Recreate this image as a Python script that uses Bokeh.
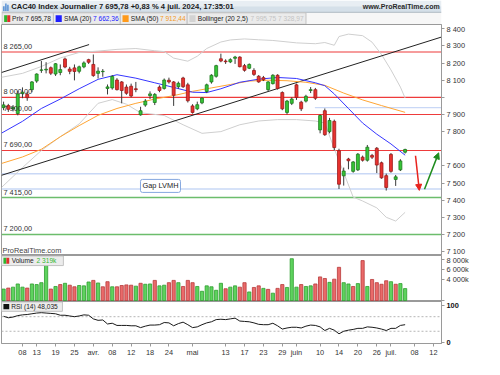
from bokeh.plotting import figure
from bokeh.models import Range1d, FixedTicker, Span, Label, Arrow, NormalHead, ColumnDataSource
from bokeh.layouts import column
from bokeh.embed import file_html
from bokeh.resources import INLINE
from bokeh.core.properties import value

FONT = "Liberation Sans"
FS = "7.4px"
FS_HEAD = "6.6px"

# ---------------- calendar (trading days) ----------------
mar = [4, 5, 6, 7, 8, 11, 12, 13, 14, 15, 18, 19, 20, 21, 22, 25, 26, 27, 28]
apr = [2, 3, 4, 5, 8, 9, 10, 11, 12, 15, 16, 17, 18, 19, 22, 23, 24, 25, 26, 29, 30]
may = [2, 3, 6, 7, 8, 9, 10, 13, 14, 15, 16, 17, 20, 21, 22, 23, 24, 27, 28, 29, 30, 31]
jun = [3, 4, 5, 6, 7, 10, 11, 12, 13, 14, 17, 18, 19, 20, 21, 24, 25, 26, 27, 28]
jul = [1, 2, 3, 4, 5, 8, 9, 10, 11, 12]
days = ([f"2024-03-{d:02d}" for d in mar] + [f"2024-04-{d:02d}" for d in apr] +
        [f"2024-05-{d:02d}" for d in may] + [f"2024-06-{d:02d}" for d in jun] +
        [f"2024-07-{d:02d}" for d in jul])

# ---------------- price data (CAC40 daily) ----------------
opens = [7940, 7952, 7932, 7905, 8022, 8018, 8045, 8095, 8158, 8160, 8173, 8136, 8145, 8224, 8165, 8172, 8152, 8178, 8220,
         8192, 8140, 8150, 8052, 8055, 8101, 8090, 8060, 8065, 8050, 7898, 7955, 8010, 7970, 8060, 8052, 8100, 8090, 8062, 8113, 8073,
         7950, 7933, 7968, 8034, 8090, 8123, 8225, 8212, 8207, 8228, 8235, 8185, 8170, 8157, 8123, 8115, 8045, 8080, 8129, 8028, 7912, 7965,
         8073, 7972, 7978, 8040, 8045, 7810, 7922, 7800, 7860, 7689, 7542, 7640, 7568, 7577, 7651, 7633, 7661, 7703, 7618, 7543,
         7667, 7521, 7577, 7680]
highs = [7975, 7962, 7955, 8038, 8058, 8032, 8095, 8140, 8212, 8205, 8180, 8200, 8192, 8232, 8178, 8192, 8185, 8210, 8225,
         8250, 8175, 8165, 8075, 8130, 8112, 8095, 8075, 8080, 8090, 7945, 7990, 8035, 8025, 8070, 8110, 8115, 8095, 8092, 8120, 8085,
         7960, 7975, 8000, 8080, 8135, 8190, 8255, 8222, 8228, 8242, 8240, 8195, 8198, 8170, 8130, 8125, 8095, 8135, 8135, 8035, 7985, 8000,
         8080, 7980, 8015, 8060, 8055, 7900, 7935, 7880, 7870, 7700, 7590, 7647, 7628, 7675, 7660, 7722, 7670, 7710, 7625, 7555,
         7675, 7547, 7639, 7700]
lows = [7925, 7915, 7918, 7895, 7995, 7980, 8030, 8085, 8143, 8140, 8130, 8125, 8129, 8170, 8135, 8099, 8140, 8170, 8195,
        8120, 8110, 8120, 8017, 8045, 8040, 7965, 8015, 8000, 8030, 7893, 7945, 7990, 7955, 8030, 8045, 8080, 7950, 8050, 8055, 7970,
        7905, 7925, 7960, 8025, 8080, 8115, 8205, 8195, 8200, 8195, 8175, 8150, 8165, 8125, 8085, 8095, 8035, 8075, 8045, 7925, 7900, 7955,
        7985, 7920, 7970, 8025, 7985, 7790, 7775, 7790, 7690, 7465, 7485, 7580, 7560, 7570, 7625, 7625, 7640, 7558, 7525, 7456,
        7560, 7483, 7570, 7672]
closes = [7956, 7930, 7942, 8020, 8030, 7998, 8090, 8136, 8160, 8164, 8141, 8196, 8162, 8177, 8152, 8151, 8178, 8201, 8205,
          8127, 8153, 8152, 8061, 8122, 8045, 8040, 8024, 8008, 8045, 7922, 7978, 8020, 8017, 8040, 8101, 8090, 8012, 8082, 8062, 7980,
          7912, 7957, 7996, 8073, 8129, 8185, 8212, 8208, 8220, 8235, 8179, 8158, 8192, 8134, 8090, 8102, 8090, 8129, 8052, 7933, 7978, 7990,
          7999, 7933, 8006, 8045, 7995, 7894, 7782, 7865, 7707, 7493, 7570, 7630, 7623, 7668, 7633, 7709, 7651, 7605, 7530, 7474,
          7568, 7536, 7629, 7695.78]
prev_close = 7934.17

# volume in thousands
volumes_k = [2230, 2420, 2600, 3220, 2600, 2420, 3220, 3100, 3470, 6880, 2230, 2730, 3100, 3350, 2980, 2670, 2920, 2850, 3600,
             3910, 3410, 2670, 3660, 2670, 2670, 2920, 3040, 2980, 2790, 3350, 3160, 3220, 3910, 2850, 2980, 3470, 3910, 3470, 2730, 3910,
             3470, 2730, 1800, 2850, 2670, 1990, 3350, 2290, 2600, 2850, 2600, 3470, 1670, 2540, 2850, 2360, 2170, 1430, 2360, 3100, 2540, 8120,
             2600, 3100, 2730, 2850, 3220, 4590, 4280, 3530, 4150, 6450, 3470, 3220, 2730, 3290, 7750, 2730, 4090, 3470, 3160, 3840,
             3660, 3160, 3290, 2319]

rsi14 = [71, 67, 69, 73, 75, 76, 78, 80, 81, 80, 79, 78, 74, 74, 72, 70, 72, 75, 74,
         64, 60, 61, 50, 52, 46, 46, 46, 45, 45, 40, 44, 47, 47, 48, 54, 53, 45, 51, 55, 48,
         40, 42, 48, 53, 56, 62, 63, 62, 64, 66, 58, 57, 56, 53, 49, 48, 48, 52, 45, 36, 39, 41,
         41, 39, 44, 47, 46, 42, 32, 38, 33, 23, 30, 33, 35, 38, 38, 42, 41, 39, 36, 32,
         38, 38, 46, 48.035]

# indicator lines, x = trading-day position
sma20_x = [-0.44, 4, 8, 12, 16, 20, 24, 28, 32, 36, 40, 43, 46, 50, 54, 58, 62, 66, 68, 70, 73, 76, 79, 82, 85]
sma20_y = [7791, 7860, 7935, 7990, 8050, 8105, 8132, 8112, 8085, 8058, 8030, 8028, 8050, 8088, 8106, 8116, 8110, 8085,
           8068, 8020, 7935, 7850, 7785, 7728, 7662.36]
sma50_x = [-0.44, 4, 8, 12, 16, 20, 24, 28, 32, 36, 40, 44, 48, 52, 56, 60, 64, 68, 72, 76, 80, 85]
sma50_y = [7614, 7652, 7697, 7770, 7835, 7895, 7935, 7965, 7990, 8010, 8035, 8055, 8075, 8095, 8100, 8097, 8088, 8070,
           8025, 7985, 7952, 7912.44]
boll_up_x = [-0.44, 4, 8, 12, 16, 20, 24, 28, 32, 34, 36, 39, 41, 43, 46, 48, 51, 54, 57, 62, 66, 68, 70, 71, 73, 76, 78,
             80, 82, 84, 85]
boll_up_y = [8117, 8140, 8180, 8230, 8262, 8270, 8280, 8285, 8272, 8267, 8229, 8211, 8240, 8285, 8323, 8335, 8341, 8336,
             8332, 8318, 8313, 8320, 8304, 8355, 8369, 8360, 8322, 8250, 8160, 8060, 7995.75]
boll_lo_x = [-0.44, 4, 8, 12, 16, 20, 23, 26, 29, 34, 38, 42, 46, 50, 54, 58, 62, 66, 68, 70, 72, 74, 76, 79, 81, 83, 85]
boll_lo_y = [7474, 7590, 7690, 7770, 7845, 7965, 7987, 7960, 7910, 7894, 7840, 7790, 7800, 7840, 7862, 7870, 7870, 7862,
             7850, 7700, 7560, 7418, 7395, 7355, 7300, 7278, 7328.97]

# drawn objects
res_levels = [8265, 8000, 7900, 7690]
sup_levels = [7415, 7200]
level_labels = {8265: "8 265,00", 8000: "8 000,00", 7900: "7 900,00", 7690: "7 690,00", 7415: "7 415,00", 7200: "7 200,00"}
gap_levels = [7554, 7465]
gap_partial = 7940
gap_partial_from = 65.9
trend1_x, trend1_y = [-0.44, 18.1], [8145, 8308]
trend2_x, trend2_y = [-0.44, 92.7], [7545, 8352]
arrow_down = (87.2, 7659, 88.0, 7457)
arrow_up = (89.1, 7463, 92.1, 7676)

price_ticks = [7100, 7200, 7300, 7400, 7500, 7600, 7800, 7900, 8000, 8100, 8200, 8300, 8400]
vol_ticks = [0, 4000, 6000, 8000]
vol_tick_labels = ["", "4 000k", "6 000k", "8 000k"]
rsi_ticks = [0, 100]

tick_days = ["2024-03-08", "2024-03-13", "2024-03-19", "2024-03-25", "2024-04-02", "2024-04-08", "2024-04-12",
             "2024-04-18", "2024-04-24", "2024-05-02", "2024-05-13", "2024-05-17", "2024-05-23", "2024-05-29",
             "2024-06-03", "2024-06-10", "2024-06-14", "2024-06-20", "2024-06-26", "2024-07-01", "2024-07-08",
             "2024-07-12"]
tick_labels = ["08", "13", "19", "25", "avr.", "08", "12", "18", "24", "mai", "13", "17", "23", "29", "juin",
               "10", "14", "20", "26", "juil.", "08", "12"]

title_text = "CAC40 Index Journalier 7 695,78 +0,83 % 4 juil. 2024, 17:35:01"


def fr(v, d=2):
    s = f"{v:,.{d}f}"
    return s.replace(",", " ").replace(".", ",")


# ---------------- layout helpers (reference pixel -> data) ----------------
W, FR = 484, 43
H_HEAD, H_PRICE, H_VOL, H_RSI = 24, 231, 46, 58
X_LO, X_HI = -0.442, 92.70
xr = Range1d(X_LO, X_HI)
GRAY = "#9a9a9a"
TXT = "#333333"


def px_day(xref):
    return (xref - 22.7) / 4.885 + 4


def py_price(yref):
    return 8000 - (yref - 101) / 0.17875


def py_vol(yref):
    return (313 - yref) / 5.375 * 1000


def py_rsi(yref):
    return 70 - (yref - 331) / 0.4075


def panel(h, yr, xaxis=None, bottom=0):
    p = figure(width=W, height=h, x_range=xr, y_range=yr, x_axis_location=xaxis, y_axis_location="right",
               output_backend="svg", toolbar_location=None, min_border_left=1, min_border_right=FR,
               min_border_top=0, min_border_bottom=bottom)
    p.grid.visible = False
    p.outline_line_color = GRAY
    p.background_fill_color = "white"
    p.border_fill_color = "white"
    ax = p.yaxis[0]
    ax.axis_line_color = GRAY
    ax.major_tick_line_color = GRAY
    ax.major_tick_out = 3
    ax.major_tick_in = 0
    ax.minor_tick_line_color = None
    ax.major_label_standoff = 2
    ax.major_label_text_font = FONT
    ax.major_label_text_font_size = FS
    ax.major_label_text_color = TXT
    return p


def side_label(p, y, text, **kw):
    opts = dict(x=X_HI, y=y, x_offset=2, text=text, text_font=FONT, text_font_size=FS, text_align="left",
                text_baseline="middle", text_color=TXT)
    opts.update(kw)
    p.add_layout(Label(**opts))


n = len(closes)
xs = list(range(n))
up = [c >= o for o, c in zip(opens, closes)]

# ---------------- header ----------------
head = figure(width=W, height=H_HEAD, x_range=Range1d(0, 500), y_range=Range1d(25, 0),
              x_axis_location=None, y_axis_location=None, output_backend="svg", toolbar_location=None,
              min_border=0, outline_line_color=None)
head.grid.visible = False
head.quad(left=[0, 0, 0], right=[500, 500, 500], top=[0, 6, 12.3], bottom=[6, 12.3, 25],
          fill_color=["#e8eef3", "#d5e0e9", "#f7f7f7"], line_color=None)
head.segment(x0=[0], y0=[12.3], x1=[500], y1=[12.3], line_color="#aeb9c2", line_width=1)
head.quad(left=[0.5, 59, 135, 211], right=[59, 135, 211, 346], top=[12.8] * 4, bottom=[24.8] * 4,
          fill_color="#ebebeb", line_color="#c2c2c2", line_width=1)
head.quad(left=[3, 6.5, 61.5, 137.5, 213.5], right=[6.5, 10, 68.5, 144.5, 220.5], top=[15.3] * 5, bottom=[22.3] * 5,
          fill_color=["#2fb62f", "#e0302c", "#1f1fff", "#ff9a1a", "#d3d3d3"], line_color=None)
head.quad(left=[2, 4.3, 6.6], right=[3.4, 5.7, 8], top=[6, 3, 4.5], bottom=[11, 11, 11],
          fill_color="#3b7fd0", line_color=None)
head.text(x=[11], y=[6.3], text=[title_text], text_font=value(FONT), text_font_size="7.6px",
          text_font_style="bold", text_baseline="middle", text_color="#1b1b1b")
head.text(x=[498], y=[6.3], text=["www.ProRealTime.com"], text_font=value(FONT), text_font_size="7.0px",
          text_font_style="bold", text_baseline="middle", text_align="right", text_color="#2a2a2a")
head.text(x=[12, 71, 147, 223], y=[18.8] * 4,
          text=["Prix " + fr(closes[-1]), "SMA (20)", "SMA (50)", "Bollinger (20 2,5)"],
          text_font=value(FONT), text_font_size=FS_HEAD, text_baseline="middle", text_color="#222222")
head.text(x=[104, 180, 283], y=[18.8] * 3,
          text=[fr(sma20_y[-1]), fr(sma50_y[-1]), fr(boll_up_y[-1]) + "  " + fr(boll_lo_y[-1])],
          text_font=value(FONT), text_font_size=FS_HEAD, text_baseline="middle",
          text_color=["#1a1aff", "#f39a1e", "#c4c4c4"])

# ---------------- price panel ----------------
price = panel(H_PRICE, Range1d(py_price(266), py_price(25)))
price.yaxis[0].ticker = FixedTicker(ticks=price_ticks)
price.yaxis[0].major_label_overrides = {t: ("" if t == 8000 else f"{t // 1000} {t % 1000:03d}") for t in price_ticks}

for lv in gap_levels:
    price.add_layout(Span(location=lv, dimension="width", line_color="#c9d8f6", line_width=1.4, level="underlay"))
price.segment(x0=[gap_partial_from], y0=[gap_partial], x1=[X_HI], y1=[gap_partial], line_color="#c9d8f6", line_width=1.4)
for lv in res_levels:
    price.add_layout(Span(location=lv, dimension="width", line_color="#ee3b3b", line_width=1.1, level="underlay"))
for lv in sup_levels:
    price.add_layout(Span(location=lv, dimension="width", line_color="#6cbd6c", line_width=1.5, level="underlay"))

price.line(boll_up_x, boll_up_y, line_color="#cfcfcf", line_width=1)
price.line(boll_lo_x, boll_lo_y, line_color="#cfcfcf", line_width=1)
price.line(trend1_x, trend1_y, line_color="#222222", line_width=1)
price.line(trend2_x, trend2_y, line_color="#222222", line_width=1)
price.line(sma50_x, sma50_y, line_color="#ffa534", line_width=1)
price.line(sma20_x, sma20_y, line_color="#3636ff", line_width=1)

csrc = ColumnDataSource(dict(
    x=xs, h=highs, l=lows,
    top=[max(o, c) for o, c in zip(opens, closes)],
    bot=[min(o, c) for o, c in zip(opens, closes)],
    fill=["#36c436" if u else "#e8322f" for u in up],
    edge=["#1d7a1d" if u else "#9a1b1b" for u in up],
))
price.segment(x0="x", y0="l", x1="x", y1="h", source=csrc, line_color="#3a3a3a", line_width=1)
price.vbar(x="x", width=0.62, top="top", bottom="bot", source=csrc, fill_color="fill", line_color="edge",
           line_width=0.8)

lv_all = res_levels + sup_levels
price.text(x=[px_day(3)] * len(lv_all), y=lv_all, text=[level_labels[v] for v in lv_all], text_font=value(FONT),
           text_font_size=FS, text_baseline="bottom", y_offset=-1, text_color=TXT)
price.text(x=[px_day(2)], y=[py_price(261)], text=["ProRealTime.com"], text_font=value(FONT), text_font_size=FS,
           text_baseline="middle", text_color="#444444")
price.add_layout(Label(x=px_day(165.4), y=py_price(193.4), text="Gap LVMH", text_font=FONT, text_font_size=FS,
                       text_align="center", text_baseline="middle", text_color="#222222",
                       background_fill_color="white", border_line_color="#86a8e0", border_line_width=1,
                       padding=2, border_radius=2))
x0, y0, x1, y1 = arrow_down
price.add_layout(Arrow(end=NormalHead(size=6, fill_color="#e8231e", line_color="#e8231e"),
                       x_start=x0, y_start=y0, x_end=x1, y_end=y1, line_color="#e8231e", line_width=1.5))
x0, y0, x1, y1 = arrow_up
price.add_layout(Arrow(end=NormalHead(size=6, fill_color="#1e8c1e", line_color="#1e8c1e"),
                       x_start=x0, y_start=y0, x_end=x1, y_end=y1, line_color="#1e8c1e", line_width=1.5))

side_label(price, 8000, "8 000", text_font_style="bold", x_offset=5, text_color="#111111")
side_label(price, closes[-1], fr(closes[-1]), text_font_style="bold", text_font_size="8.8px", x_offset=1,
           text_color="#111111", background_fill_color="#ffd400", border_line_color="#b08f00",
           border_line_width=1, padding=1)

# ---------------- volume panel ----------------
vol = panel(H_VOL, Range1d(py_vol(314), py_vol(266)))
vol.yaxis[0].ticker = FixedTicker(ticks=vol_ticks)
vol.yaxis[0].major_label_overrides = dict(zip(vol_ticks, vol_tick_labels))
prevs = [prev_close] + closes[:-1]
vup = [c >= pc for c, pc in zip(closes, prevs)]
vsrc = ColumnDataSource(dict(x=xs, v=volumes_k,
                             fill=["#5ed35e" if u else "#ea6a6a" for u in vup],
                             edge=["#2e9e2e" if u else "#b83a3a" for u in vup]))
vol.vbar(x="x", width=0.68, top="v", bottom=0, source=vsrc, fill_color="fill", line_color="edge", line_width=0.8)
vol.quad(left=[px_day(1)], right=[px_day(65)], top=[py_vol(266.5)], bottom=[py_vol(276.5)],
         fill_color="#ececec", line_color="#c2c2c2")
vol.quad(left=[px_day(3), px_day(6)], right=[px_day(6), px_day(9)], top=[py_vol(268.3)] * 2,
         bottom=[py_vol(274.7)] * 2, fill_color=["#2fb62f", "#e0302c"], line_color=None)
vol.text(x=[px_day(11.5)], y=[py_vol(271.5)], text=["Volume"], text_font=value(FONT), text_font_size=FS_HEAD,
         text_baseline="middle", text_color="#222222")
vol.text(x=[px_day(37.3)], y=[py_vol(271.5)], text=[fr(volumes_k[-1], 0) + "k"], text_font=value(FONT),
         text_font_size=FS_HEAD, text_baseline="middle", text_color="#35b835")
side_label(vol, py_vol(308.5), "0", text_font_style="bold", x_offset=5)
side_label(vol, volumes_k[-1], fr(volumes_k[-1], 0) + "k", x_offset=1, text_color="#35b835",
           background_fill_color="white", border_line_color="#a8a8a8", border_line_width=1, padding=1)

# ---------------- RSI panel ----------------
rsi = panel(H_RSI, Range1d(py_rsi(361), py_rsi(314)), xaxis="below", bottom=13)
rsi.yaxis[0].ticker = FixedTicker(ticks=rsi_ticks)
rsi.yaxis[0].major_label_text_font_style = "bold"
rsi.yaxis[0].major_label_text_color = "#111111"
for lv in (70, 30):
    rsi.add_layout(Span(location=lv, dimension="width", line_color="#b5b5b5", line_width=1, line_dash="2 2",
                        level="underlay"))
rsi.line(xs, rsi14, line_color="#1a1a1a", line_width=1)
rsi.quad(left=[px_day(1)], right=[px_day(64)], top=[py_rsi(314.5)], bottom=[py_rsi(325)],
         fill_color="#ececec", line_color="#c2c2c2")
rsi.quad(left=[px_day(3)], right=[px_day(9)], top=[py_rsi(316.8)], bottom=[py_rsi(322.8)],
         fill_color="#111111", line_color=None)
rsi.text(x=[px_day(11)], y=[py_rsi(319.8)], text=["RSI (14) " + fr(rsi14[-1], 3)], text_font=value(FONT),
         text_font_size=FS_HEAD, text_baseline="middle", text_color="#222222")
side_label(rsi, rsi14[-1], fr(rsi14[-1], 3), x_offset=1, background_fill_color="white",
           border_line_color="#a8a8a8", border_line_width=1, padding=1)

tick_pos = [days.index(d) for d in tick_days]
xa = rsi.xaxis[0]
xa.ticker = FixedTicker(ticks=tick_pos)
xa.major_label_overrides = dict(zip(tick_pos, tick_labels))
xa.axis_line_color = GRAY
xa.major_tick_line_color = GRAY
xa.major_tick_out = 3
xa.major_tick_in = 0
xa.minor_tick_line_color = None
xa.major_label_standoff = 1
xa.major_label_text_font = FONT
xa.major_label_text_font_size = FS
xa.major_label_text_color = TXT

layout = column(head, price, vol, rsi, spacing=0)
open("out.html", "w").write(file_html(layout, INLINE))
